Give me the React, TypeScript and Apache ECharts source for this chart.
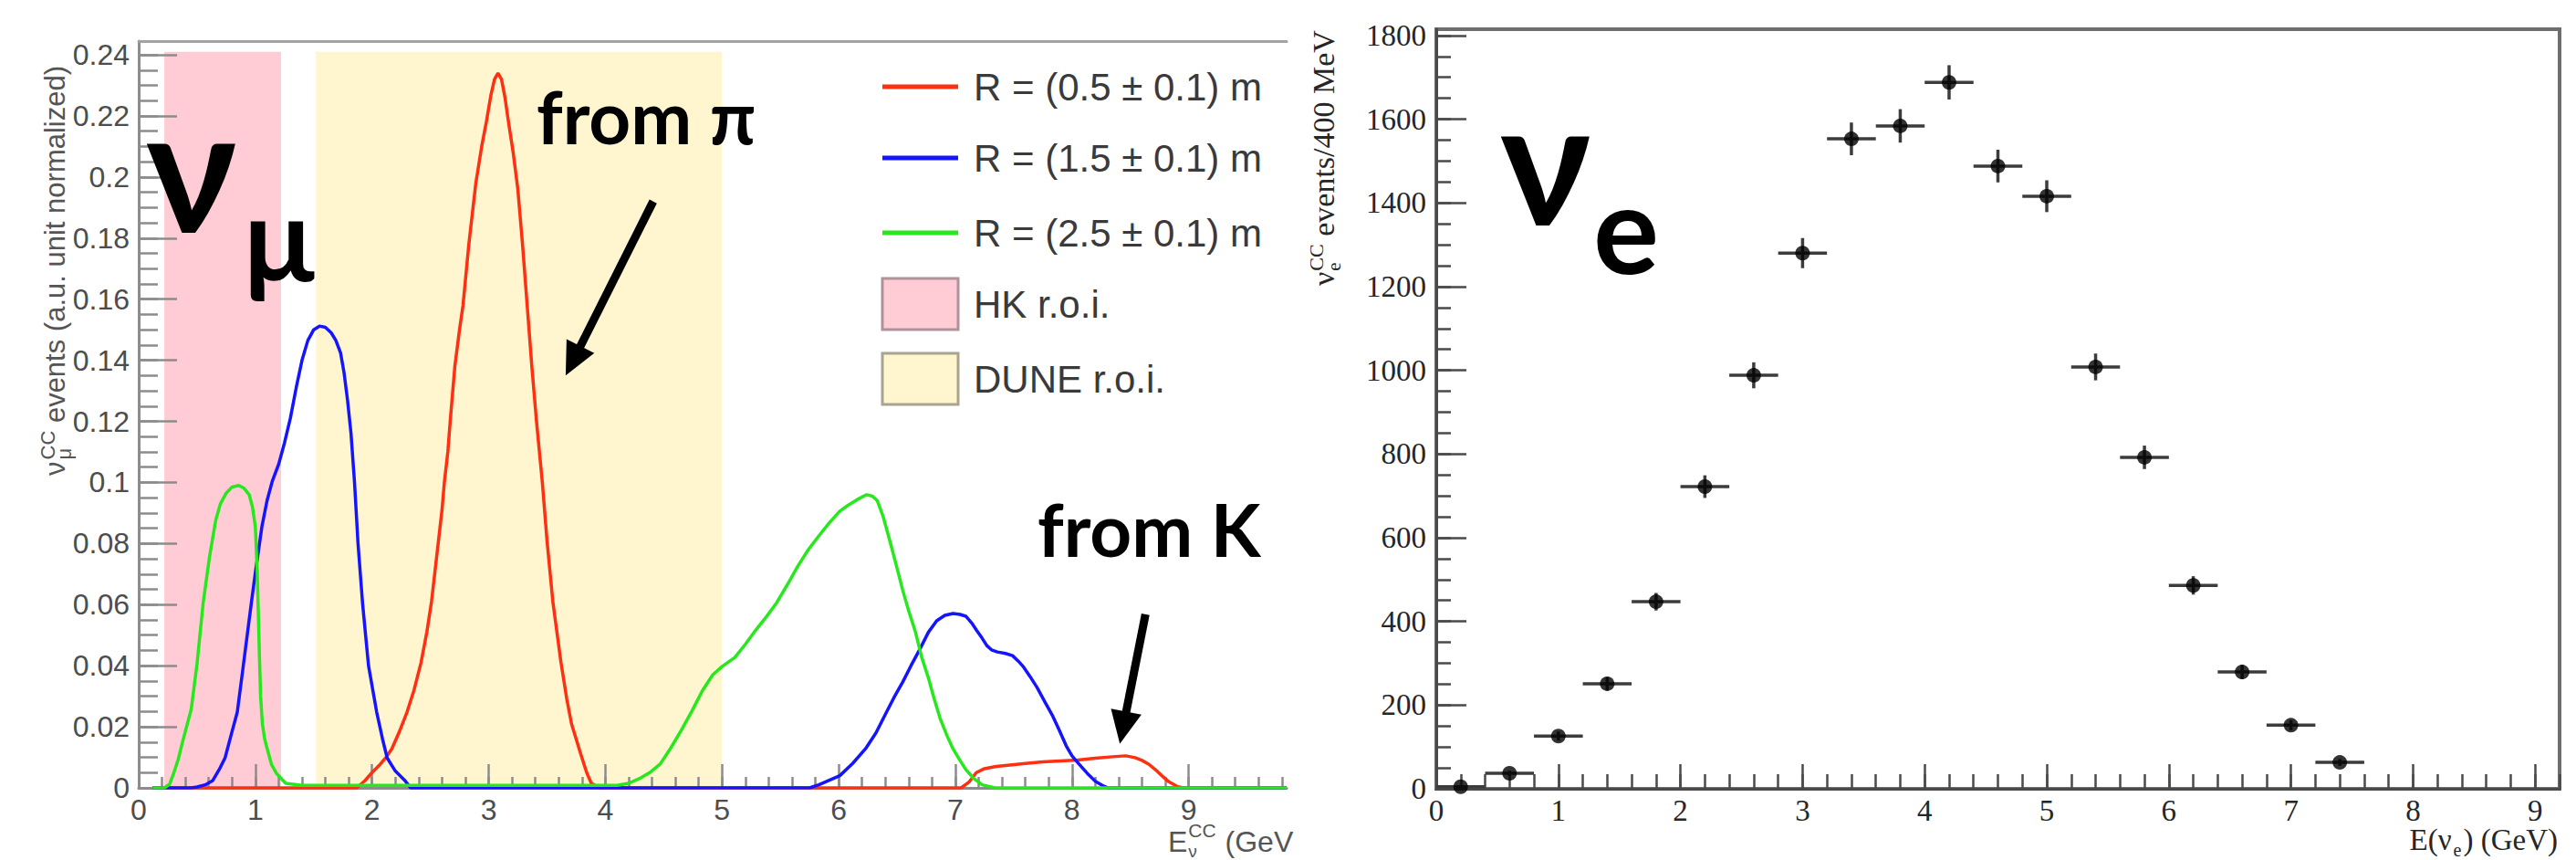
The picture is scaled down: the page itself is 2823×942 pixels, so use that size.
import React, { useEffect, useRef } from "react";
import * as echarts from "echarts";

// ---------------- Left panel: nu_mu CC spectra (a.u., unit normalized) ----------------
const curveNames = ["R = (0.5 ± 0.1) m", "R = (1.5 ± 0.1) m", "R = (2.5 ± 0.1) m"];
const regionNames = ["HK r.o.i.", "DUNE r.o.i."];
const hkRange = [0.22, 1.22];
const duneRange = [1.52, 5.0];
const regionTop = 0.241;

const redCurve: [number, number][] = [
  [0.12, 0], [1.87, 0], [1.94, 0.0024], [2.0, 0.005], [2.07, 0.0077], [2.12, 0.01], [2.17, 0.0128],
  [2.23, 0.018], [2.3, 0.0248], [2.36, 0.032], [2.42, 0.041], [2.47, 0.051], [2.51, 0.061], [2.54, 0.071],
  [2.57, 0.081], [2.6, 0.091], [2.62, 0.1], [2.65, 0.11], [2.67, 0.12], [2.71, 0.138], [2.75, 0.15],
  [2.78, 0.158], [2.83, 0.178], [2.89, 0.198], [2.94, 0.21], [2.98, 0.218], [3.02, 0.227], [3.05, 0.232],
  [3.08, 0.234], [3.11, 0.232], [3.14, 0.226], [3.17, 0.218], [3.21, 0.208], [3.25, 0.196], [3.29, 0.178],
  [3.33, 0.158], [3.37, 0.138], [3.41, 0.12], [3.46, 0.1], [3.5, 0.081], [3.55, 0.061], [3.62, 0.041],
  [3.67, 0.029], [3.71, 0.021], [3.79, 0.011], [3.84, 0.005], [3.88, 0.0015], [3.95, 0], [7.05, 0],
  [7.12, 0.002], [7.18, 0.005], [7.25, 0.0063], [7.35, 0.007], [7.45, 0.0074], [7.6, 0.008], [7.75, 0.0085],
  [7.9, 0.0088], [8.05, 0.0091], [8.2, 0.0097], [8.35, 0.0102], [8.46, 0.0105], [8.54, 0.0099], [8.6, 0.009],
  [8.66, 0.0077], [8.72, 0.0058], [8.77, 0.004], [8.83, 0.002], [8.9, 0.0005], [8.95, 0], [9.84, 0],
];

const blueCurve: [number, number][] = [
  [0.12, 0], [0.45, 0], [0.5, 0.0003], [0.57, 0.001], [0.635, 0.0024], [0.69, 0.006], [0.74, 0.0098],
  [0.79, 0.017], [0.845, 0.0248], [0.89, 0.038], [0.93, 0.05], [0.966, 0.0607], [1.0, 0.0705], [1.056, 0.0855],
  [1.1, 0.094], [1.145, 0.1004], [1.2, 0.106], [1.25, 0.113], [1.3, 0.121], [1.35, 0.131], [1.4, 0.14],
  [1.45, 0.1465], [1.5, 0.15], [1.55, 0.1512], [1.6, 0.1508], [1.65, 0.149], [1.69, 0.1465], [1.73, 0.1425],
  [1.76, 0.136], [1.79, 0.127], [1.82, 0.116], [1.85, 0.1], [1.88, 0.08], [1.92, 0.06], [1.97, 0.04],
  [2.04, 0.0248], [2.09, 0.016], [2.13, 0.0098], [2.2, 0.0055], [2.28, 0.0025], [2.33, 0], [3.5, 0],
  [5.75, 0], [5.83, 0.001], [5.92, 0.0025], [6.01, 0.004], [6.12, 0.008], [6.23, 0.0128], [6.32, 0.018],
  [6.41, 0.0248], [6.48, 0.03], [6.55, 0.0347], [6.62, 0.04], [6.7, 0.0457], [6.77, 0.051], [6.84, 0.0547],
  [6.91, 0.0565], [6.98, 0.0571], [7.04, 0.0568], [7.09, 0.0562], [7.14, 0.054], [7.18, 0.0517], [7.23, 0.049],
  [7.27, 0.0466], [7.31, 0.0452], [7.36, 0.0445], [7.43, 0.044], [7.49, 0.0433], [7.54, 0.0415], [7.58, 0.0398],
  [7.64, 0.0365], [7.7, 0.0329], [7.77, 0.028], [7.83, 0.0239], [7.89, 0.019], [7.95, 0.0138], [8.0, 0.0105],
  [8.06, 0.0078], [8.13, 0.0048], [8.2, 0.0022], [8.26, 0.0008], [8.31, 0], [9.84, 0],
];

const greenCurve: [number, number][] = [
  [0.12, 0], [0.22, 0], [0.265, 0.0012], [0.3, 0.0048], [0.34, 0.0095], [0.375, 0.0149], [0.41, 0.02],
  [0.45, 0.0257], [0.5, 0.0406], [0.553, 0.0607], [0.607, 0.0756], [0.66, 0.0876], [0.7, 0.093], [0.75, 0.0965],
  [0.8, 0.0985], [0.858, 0.099], [0.9, 0.0982], [0.947, 0.096], [0.975, 0.092], [1.0, 0.0855], [1.015, 0.072],
  [1.025, 0.058], [1.035, 0.043], [1.045, 0.03], [1.06, 0.021], [1.08, 0.016], [1.1, 0.013], [1.14, 0.0075],
  [1.18, 0.0048], [1.26, 0.0015], [1.4, 0.0008], [2.5, 0.0008], [4.1, 0.0008], [4.2, 0.0015], [4.29, 0.003],
  [4.38, 0.005], [4.47, 0.0078], [4.56, 0.013], [4.65, 0.0188], [4.74, 0.025], [4.83, 0.0317], [4.92, 0.037],
  [5.0, 0.0397], [5.11, 0.0427], [5.2, 0.047], [5.29, 0.0517], [5.38, 0.056], [5.47, 0.0607], [5.56, 0.0665],
  [5.65, 0.0726], [5.74, 0.078], [5.83, 0.0825], [5.92, 0.0868], [6.01, 0.0906], [6.08, 0.0925], [6.16, 0.0944],
  [6.24, 0.096], [6.29, 0.0955], [6.33, 0.0941], [6.38, 0.089], [6.44, 0.0807], [6.5, 0.072], [6.55, 0.0646],
  [6.6, 0.058], [6.66, 0.0508], [6.71, 0.043], [6.77, 0.0359], [6.82, 0.029], [6.87, 0.0227], [6.93, 0.017],
  [6.98, 0.0128], [7.04, 0.009], [7.09, 0.006], [7.16, 0.003], [7.23, 0.001], [7.34, 0], [9.84, 0],
];

const leftXTicks = [0, 1, 2, 3, 4, 5, 6, 7, 8, 9];
const leftYTicks = [0, 0.02, 0.04, 0.06, 0.08, 0.1, 0.12, 0.14, 0.16, 0.18, 0.2, 0.22, 0.24];

// annotation arrows, in data coordinates of the left panel
const arrowPi = { tail: [4.41, 0.192], tip: [3.66, 0.135] };
const arrowK = { tail: [8.63, 0.0568], tip: [8.41, 0.0144] };

// ---------------- Right panel: nu_e CC events / 400 MeV ----------------
const binCenters = [0.2, 0.6, 1.0, 1.4, 1.8, 2.2, 2.6, 3.0, 3.4, 3.8, 4.2, 4.6, 5.0, 5.4, 5.8, 6.2, 6.6, 7.0, 7.4];
const binHalfWidth = 0.2;
const eventCounts = [5, 37, 126, 251, 447, 722, 988, 1280, 1553, 1584, 1688, 1488, 1416, 1008, 792, 486, 279, 152, 63];
const countErrors = [2, 6, 11, 16, 21, 27, 31, 36, 39, 40, 41, 39, 38, 32, 28, 22, 17, 12, 8];
const rightXTicks = [0, 1, 2, 3, 4, 5, 6, 7, 8, 9];
const rightYTicks = [0, 200, 400, 600, 800, 1000, 1200, 1400, 1600, 1800];

// ---------------- layout / style ----------------
const W = 2823;
const H = 942;
const SANS = "'Liberation Sans', Arial, Helvetica, sans-serif";
const SERIF = "'Liberation Serif', 'Times New Roman', Times, serif";
const BOLD = "Lato, 'Noto Sans', 'DejaVu Sans', sans-serif";
const K_SANS = 0.3465;
const K_SERIF = 0.3375;
const K_LATO = 0.387;

const L = { left: 152, top: 45, width: 1258, height: 818, xmax: 9.84, ymax: 0.2445 };
const R = { left: 1574, top: 32, width: 1231, height: 832, xmax: 9.2, ymax: 1815 };

const colors = ["#ff2f12", "#1414ff", "#27e81c"];
const pink = "#ffccd5";
const yellow = "#fff5ce";
const L_AXIS = "#8c8c8c";
const L_LABEL = "#4d4d4d";
const R_AXIS = "#4a4a4a";
const R_LABEL = "#262626";

function steps(step: number, max: number): number[] {
  const out: number[] = [];
  for (let i = 0; i * step <= max + 1e-9; i++) out.push(Math.round(i * step * 1e6) / 1e6);
  return out;
}

let measureCtx: CanvasRenderingContext2D | null = null;
function tw(text: string, size: number, family: string, weight = "normal"): number {
  if (!measureCtx) measureCtx = document.createElement("canvas").getContext("2d");
  measureCtx!.font = `${weight} ${size}px ${family}`;
  return measureCtx!.measureText(text).width;
}

function txt(text: string, x: number, baseline: number, size: number, family: string, k: number, fill: string, weight = "normal", align = "left") {
  return {
    type: "text",
    x,
    y: baseline - k * size,
    silent: true,
    z: 50,
    style: {
      text,
      fontSize: size,
      fontFamily: family,
      fontWeight: weight,
      fill,
      align,
      verticalAlign: "middle",
      textAlign: align,
      textVerticalAlign: "middle",
    },
  };
}

function arrowEls(tail: number[], tip: number[]) {
  const dx = tip[0] - tail[0];
  const dy = tip[1] - tail[1];
  const len = Math.sqrt(dx * dx + dy * dy);
  const ux = dx / len;
  const uy = dy / len;
  const headL = 36;
  const hw = 17;
  const bx = tip[0] - headL * ux;
  const by = tip[1] - headL * uy;
  const nx = -uy;
  const ny = ux;
  return [
    {
      type: "line",
      silent: true,
      z: 50,
      shape: { x1: tail[0], y1: tail[1], x2: bx + 6 * ux, y2: by + 6 * uy },
      style: { stroke: "#000", lineWidth: 9 },
    },
    {
      type: "polygon",
      silent: true,
      z: 50,
      shape: { points: [[tip[0], tip[1]], [bx + hw * nx, by + hw * ny], [bx - hw * nx, by - hw * ny]] },
      style: { fill: "#000" },
    },
  ];
}

function axisBase(gridIndex: number, min: number, max: number) {
  return { type: "value", gridIndex, min, max, splitLine: { show: false }, z: 1, silent: true };
}

function buildOption() {
  const leftXMinor = steps(0.2, L.xmax);
  const leftYMinor = steps(0.005, L.ymax);
  const rightXMinor = steps(0.2, R.xmax);
  const rightYMinor = steps(50, R.ymax);

  const lTick = (len: number, vals: number[]) => ({ show: true, inside: true, length: len, customValues: vals, lineStyle: { color: L_AXIS, width: 2.5 } });
  const rTick = (len: number, vals: number[]) => ({ show: true, inside: true, length: len, customValues: vals, lineStyle: { color: R_AXIS, width: 2.5 } });
  const none = { show: false };
  const plain = (v: number) => String(v);

  return {
    animation: false,
    backgroundColor: "#ffffff",
    grid: [
      { left: L.left, top: L.top, width: L.width, height: L.height, show: false },
      { left: R.left, top: R.top, width: R.width, height: R.height, show: true, borderColor: "#6e6e6e", borderWidth: 4, backgroundColor: "transparent" },
    ],
    xAxis: [
      {
        ...axisBase(0, 0, L.xmax), position: "bottom",
        axisLine: { show: true, onZero: false, lineStyle: { color: L_AXIS, width: 3 } },
        axisTick: lTick(26, leftXTicks),
        axisLabel: { show: true, customValues: leftXTicks, formatter: plain, margin: 8, color: L_LABEL, fontFamily: SANS, fontSize: 32 },
      },
      { ...axisBase(0, 0, L.xmax), position: "bottom", axisLine: none, axisTick: lTick(12, leftXMinor), axisLabel: none },
      { ...axisBase(0, 0, L.xmax), position: "top", axisLine: { show: true, onZero: false, lineStyle: { color: "#a3a3a3", width: 3 } }, axisTick: none, axisLabel: none },
      {
        ...axisBase(1, 0, R.xmax), position: "bottom",
        axisLine: { show: true, onZero: false, lineStyle: { color: R_AXIS, width: 3 } },
        axisTick: rTick(27, rightXTicks),
        axisLabel: { show: true, customValues: rightXTicks, formatter: plain, margin: 7, color: R_LABEL, fontFamily: SERIF, fontSize: 33 },
      },
      { ...axisBase(1, 0, R.xmax), position: "bottom", axisLine: none, axisTick: rTick(16, rightXMinor), axisLabel: none },
    ],
    yAxis: [
      {
        ...axisBase(0, 0, L.ymax), position: "left",
        axisLine: { show: true, onZero: false, lineStyle: { color: L_AXIS, width: 3 } },
        axisTick: lTick(42, leftYTicks),
        axisLabel: { show: true, customValues: leftYTicks, formatter: plain, margin: 10, color: L_LABEL, fontFamily: SANS, fontSize: 32 },
      },
      { ...axisBase(0, 0, L.ymax), position: "left", axisLine: none, axisTick: lTick(21, leftYMinor), axisLabel: none },
      {
        ...axisBase(1, 0, R.ymax), position: "left",
        axisLine: { show: true, onZero: false, lineStyle: { color: R_AXIS, width: 3 } },
        axisTick: rTick(33, rightYTicks),
        axisLabel: { show: true, customValues: rightYTicks, formatter: plain, margin: 11, color: R_LABEL, fontFamily: SERIF, fontSize: 33 },
      },
      { ...axisBase(1, 0, R.ymax), position: "left", axisLine: none, axisTick: rTick(16, rightYMinor), axisLabel: none },
    ],
    series: [
      {
        type: "line",
        name: "regions",
        xAxisIndex: 0,
        yAxisIndex: 0,
        z: 0,
        silent: true,
        symbol: "none",
        data: [[0, 0]],
        lineStyle: { width: 0, opacity: 0 },
        markArea: {
          silent: true,
          label: { show: false },
          data: [
            [{ name: regionNames[0], xAxis: hkRange[0], yAxis: 0, itemStyle: { color: pink } }, { xAxis: hkRange[1], yAxis: regionTop }],
            [{ name: regionNames[1], xAxis: duneRange[0], yAxis: 0, itemStyle: { color: yellow } }, { xAxis: duneRange[1], yAxis: regionTop }],
          ],
        },
      },
      ...[redCurve, blueCurve, greenCurve].map((d, i) => ({
        type: "line",
        name: curveNames[i],
        xAxisIndex: 0,
        yAxisIndex: 0,
        z: 2 + i * 0.1,
        silent: true,
        symbol: "none",
        showSymbol: false,
        smooth: false,
        data: d,
        lineStyle: { color: colors[i], width: 3.5 },
      })),
      {
        type: "custom",
        name: "errors",
        xAxisIndex: 3,
        yAxisIndex: 2,
        z: 3,
        silent: true,
        data: binCenters.map((e, i) => [e, eventCounts[i], countErrors[i]]),
        renderItem: (_params: any, api: any) => {
          const x = api.value(0);
          const y = api.value(1);
          const err = api.value(2);
          const l = api.coord([x - binHalfWidth, y]);
          const r = api.coord([x + binHalfWidth, y]);
          const t = api.coord([x, y + err]);
          const b = api.coord([x, y - err]);
          const st = { stroke: "#3c3c3c", lineWidth: 3.5 };
          return {
            type: "group",
            children: [
              { type: "line", shape: { x1: l[0], y1: l[1], x2: r[0], y2: r[1] }, style: st },
              { type: "line", shape: { x1: t[0], y1: t[1], x2: b[0], y2: b[1] }, style: st },
            ],
          };
        },
      },
      {
        type: "scatter",
        name: "nu_e CC",
        xAxisIndex: 3,
        yAxisIndex: 2,
        z: 4,
        silent: true,
        symbol: "circle",
        symbolSize: 16,
        itemStyle: { color: "#000" },
        data: binCenters.map((e, i) => [e, eventCounts[i]]),
      },
    ],
  };
}

function buildGraphics(chart: any) {
  const els: any[] = [];
  const px = (p: number[]) => chart.convertToPixel({ xAxisIndex: 0, yAxisIndex: 0 }, p);

  // big labels
  els.push(txt("ν", 160, 255, 190, BOLD, K_LATO, "#000", "bold"));
  els.push(txt("μ", 267, 308, 128, BOLD, K_LATO, "#000", "bold"));
  els.push(txt("from π", 588, 158, 80, BOLD, K_LATO, "#000", "bold"));
  els.push(txt("from K", 1137, 610, 80, BOLD, K_LATO, "#000", "bold"));
  els.push(txt("ν", 1644, 247, 190, BOLD, K_LATO, "#000", "bold"));
  els.push(txt("e", 1746, 300, 135, BOLD, K_LATO, "#000", "bold"));

  els.push(...arrowEls(px(arrowPi.tail), px(arrowPi.tip)));
  els.push(...arrowEls(px(arrowK.tail), px(arrowK.tip)));

  // legend
  const legX1 = 967;
  const legX2 = 1050;
  const legTextX = 1067;
  const rowY = [95, 173, 255, 333, 415];
  const LEG_FS = 42;
  for (let i = 0; i < 3; i++) {
    els.push({ type: "line", silent: true, z: 50, shape: { x1: legX1, y1: rowY[i], x2: legX2, y2: rowY[i] }, style: { stroke: colors[i], lineWidth: 5 } });
    els.push(txt(curveNames[i], legTextX, rowY[i] + K_SANS * LEG_FS * 1.03, LEG_FS, SANS, K_SANS, "#3a3a3a"));
  }
  const boxFill = [pink, yellow];
  const boxStroke = ["#b0929a", "#a9a48f"];
  for (let j = 0; j < 2; j++) {
    const cy = rowY[3 + j];
    els.push({ type: "rect", silent: true, z: 50, shape: { x: legX1, y: cy - 28, width: legX2 - legX1, height: 56 }, style: { fill: boxFill[j], stroke: boxStroke[j], lineWidth: 3 } });
    els.push(txt(regionNames[j], legTextX, cy + K_SANS * LEG_FS * 1.03, LEG_FS, SANS, K_SANS, "#3a3a3a"));
  }

  // left y-axis title (rotated)
  {
    const fs = 31, fss = 22;
    const wNu = tw("ν", fs, SANS);
    const lxS = wNu + 2;
    const wS = Math.max(tw("CC", fss, SANS), tw("μ", fss, SANS));
    const kids = [
      txt("ν", 0, 0, fs, SANS, K_SANS, "#555"),
      txt("CC", lxS, -11, fss, SANS, K_SANS, "#555"),
      txt("μ", lxS, 7, fss, SANS, K_SANS, "#555"),
      txt(" events (a.u. unit normalized)", lxS + wS, 0, fs, SANS, K_SANS, "#555"),
    ];
    els.push({ type: "group", x: 71, y: 521, rotation: Math.PI / 2, silent: true, children: kids });
  }
  // right y-axis title (rotated)
  {
    const fs = 34, fss = 22;
    const wNu = tw("ν", fs, SERIF);
    const lxS = wNu + 1;
    const wS = Math.max(tw("CC", fss, SERIF), tw("e", 21, SERIF));
    const kids = [
      txt("ν", 0, 0, fs, SERIF, K_SERIF, R_LABEL),
      txt("CC", lxS, -12, fss, SERIF, K_SERIF, R_LABEL),
      txt("e", lxS, 7, 21, SERIF, K_SERIF, R_LABEL),
      txt(" events/400 MeV", lxS + wS, 0, fs, SERIF, K_SERIF, R_LABEL),
    ];
    els.push({ type: "group", x: 1462, y: 313, rotation: Math.PI / 2, silent: true, children: kids });
  }
  // left x-axis title (cut at the panel's right edge, as in the source figure)
  {
    const fs = 32, fss = 21;
    const x0 = 1280;
    const wE = tw("E", fs, SANS);
    const wS = Math.max(tw("CC", fss, SANS), tw("ν", fss, SANS));
    els.push(txt("E", x0, 933, fs, SANS, K_SANS, "#555"));
    els.push(txt("CC", x0 + wE + 1, 917, fss, SANS, K_SANS, "#555"));
    els.push(txt("ν", x0 + wE + 1, 939, 19, SANS, K_SANS, "#555"));
    els.push(txt(" (GeV", x0 + wE + 2 + wS, 933, fs, SANS, K_SANS, "#555"));
  }
  // right x-axis title
  {
    const fs = 33, fss = 20;
    const a = "E(ν", b = "e", c = ") (GeV)";
    const wa = tw(a, fs, SERIF), wb = tw(b, fss, SERIF), wc = tw(c, fs, SERIF);
    const gap = 2;
    const x0 = 2803 - (wa + wb + wc + 2 * gap);
    els.push(txt(a, x0, 931, fs, SERIF, K_SERIF, R_LABEL));
    els.push(txt(b, x0 + wa + gap, 938, fss, SERIF, K_SERIF, R_LABEL));
    els.push(txt(c, x0 + wa + wb + 2 * gap, 931, fs, SERIF, K_SERIF, R_LABEL));
  }
  return els;
}

export default function App() {
  const ref = useRef<HTMLDivElement>(null);
  useEffect(() => {
    const el = ref.current;
    if (!el) return;
    const chart = echarts.init(el, undefined, { renderer: "svg", width: W, height: H });
    chart.setOption(buildOption() as any);
    chart.setOption({ graphic: { elements: buildGraphics(chart) } } as any);
    return () => {
      chart.dispose();
    };
  }, []);
  return <div ref={ref} style={{ position: "fixed", left: 0, top: 0, width: W, height: H, background: "#fff" }} />;
}
